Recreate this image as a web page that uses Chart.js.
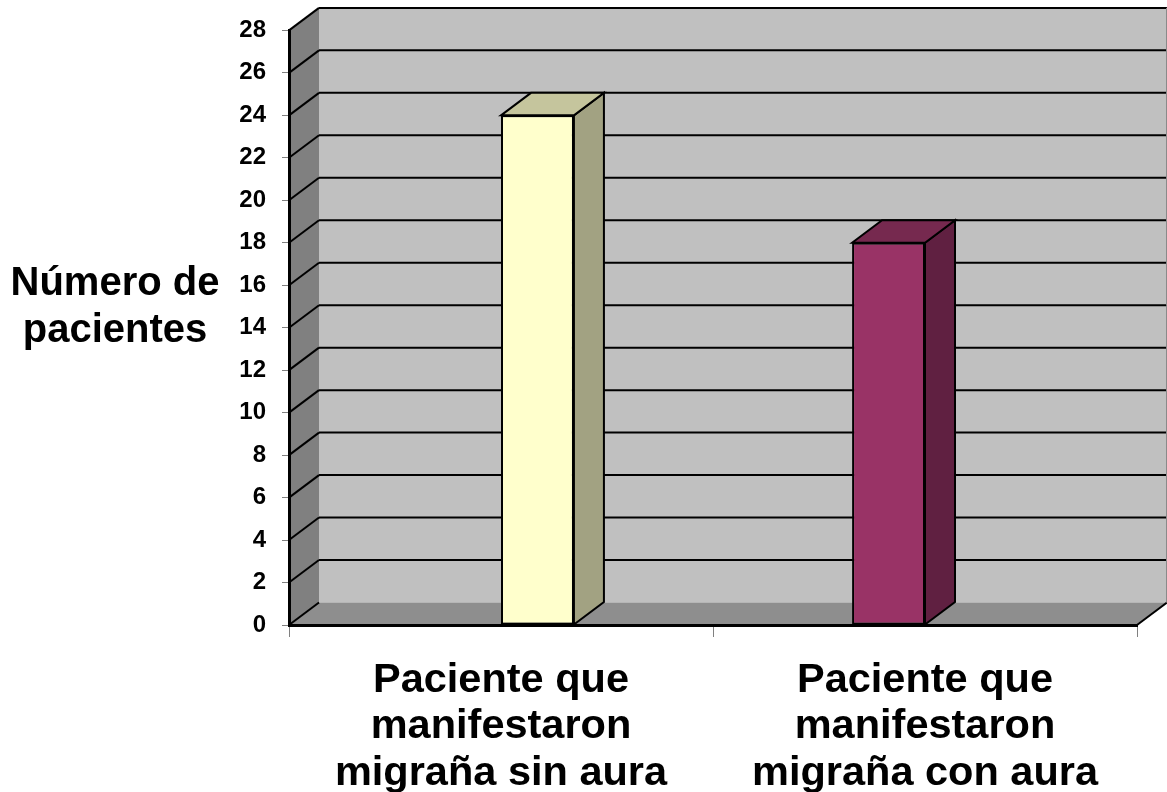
<!DOCTYPE html>
<html>
<head>
<meta charset="utf-8">
<script src="https://cdn.jsdelivr.net/npm/chart.js@4/dist/chart.umd.min.js"></script>
<style>
  html, body { margin: 0; padding: 0; background: #ffffff; }
  #wrap { width: 1167px; height: 792px; }
</style>
</head>
<body>
<div id="wrap"><canvas id="c" width="1167" height="792"></canvas></div>
<script>
// Patient counts per migraine type
const categories = [
  ["Paciente que", "manifestaron", "migraña sin aura"],
  ["Paciente que", "manifestaron", "migraña con aura"]
];
const patientCounts = [24, 18];
const frontColors = ["#ffffcc", "#993366"];
const topColors   = ["#c5c59d", "#76294f"];
const sideColors  = ["#a2a282", "#602041"];
const yTitleLines = ["Número de", "pacientes"];
const yMin = 0, yMax = 28, yStep = 2;

// depth of the 3D box (walls, floor and column sides)
const DX = 30, DY = 22.5;
const FONT = "'Liberation Sans', Arial, sans-serif";

// One series per category so each column lands beside its category centre,
// the way the 3D column layout places them.
const datasets = patientCounts.map((v, i) => ({
  label: categories[i].join(" "),
  data: categories.map((_, j) => (j === i ? v : null)),
  backgroundColor: frontColors[i],
  borderColor: "#000000",
  borderWidth: 2,
  borderSkipped: false,
  categoryPercentage: 0.344,
  barPercentage: 1.0
})).reverse();

function poly(ctx, pts, fill) {
  ctx.beginPath();
  ctx.moveTo(pts[0][0], pts[0][1]);
  for (let k = 1; k < pts.length; k++) ctx.lineTo(pts[k][0], pts[k][1]);
  ctx.closePath();
  ctx.fillStyle = fill;
  ctx.fill();
}
function line(ctx, x1, y1, x2, y2, color, w) {
  ctx.beginPath();
  ctx.moveTo(x1, y1);
  ctx.lineTo(x2, y2);
  ctx.strokeStyle = color;
  ctx.lineWidth = w;
  ctx.stroke();
}

// back wall, side wall, floor and their grid lines
const box3d = {
  id: "box3d",
  beforeDraw(chart) {
    const ctx = chart.ctx;
    const { left, right, top, bottom } = chart.chartArea;
    const ys = chart.scales.y;
    ctx.save();
    poly(ctx, [[left + DX, top - DY], [right + DX, top - DY], [right + DX, bottom - DY], [left + DX, bottom - DY]], "#c0c0c0");
    poly(ctx, [[left, top], [left + DX, top - DY], [left + DX, bottom - DY], [left, bottom]], "#808080");
    poly(ctx, [[left, bottom], [left + DX, bottom - DY], [right + DX, bottom - DY], [right, bottom]], "#8e8e8e");
    ctx.lineCap = "butt";
    ys.ticks.forEach(t => {
      const py = ys.getPixelForValue(t.value);
      line(ctx, left, py, left + DX, py - DY, "#000000", 2);
      if (t.value > yMin) line(ctx, left + DX, py - DY, right + DX, py - DY, "#000000", 2);
    });
    line(ctx, right, bottom, right + DX, bottom - DY, "#000000", 2);
    line(ctx, right + DX - 0.5, top - DY, right + DX - 0.5, bottom - DY, "#8a8a8a", 1);
    // horizontal axis title on the left
    ctx.fillStyle = "#000000";
    ctx.font = "bold 40px " + FONT;
    ctx.textAlign = "center";
    ctx.textBaseline = "alphabetic";
    ctx.fillText(yTitleLines[0], 115, 295);
    ctx.fillText(yTitleLines[1], 115, 342);
    ctx.restore();
  },
  afterDatasetsDraw(chart) {
    const ctx = chart.ctx;
    ctx.save();
    ctx.lineJoin = "miter";
    chart.data.datasets.forEach((ds, di) => {
      const meta = chart.getDatasetMeta(di);
      meta.data.forEach((el, j) => {
        if (ds.data[j] === null || ds.data[j] === undefined) return;
        const idx = j;
        const l = el.x - el.width / 2, r = el.x + el.width / 2;
        const t = el.y, b = el.base;
        const side = [[r, t], [r + DX, t - DY], [r + DX, b - DY], [r, b]];
        const topF = [[l, t], [l + DX, t - DY], [r + DX, t - DY], [r, t]];
        [[side, sideColors[idx]], [topF, topColors[idx]]].forEach(([pts, c]) => {
          poly(ctx, pts, c);
          ctx.strokeStyle = "#000000";
          ctx.lineWidth = 2;
          ctx.stroke();
        });
      });
    });
    ctx.restore();
  }
};

new Chart(document.getElementById("c"), {
  type: "bar",
  data: { labels: categories, datasets },
  options: {
    responsive: false,
    animation: false,
    layout: { padding: { left: 0, right: 30, top: 30, bottom: 0 } },
    plugins: { legend: { display: false }, tooltip: { enabled: false } },
    scales: {
      x: {
        grid: { offset: true, drawOnChartArea: false, drawTicks: true, tickLength: 12, color: "#808080", lineWidth: 1 },
        border: { display: true, color: "#000000", width: 3 },
        ticks: {
          color: "#000000",
          font: { family: FONT, size: 41.5, weight: "bold", lineHeight: 1.12 },
          padding: 20,
          maxRotation: 0,
          autoSkip: false
        },
        afterFit(scale) { scale.height = 167; }
      },
      y: {
        min: yMin,
        max: yMax,
        grid: { drawOnChartArea: false, drawTicks: true, tickLength: 7, color: "#808080", lineWidth: 1 },
        border: { display: true, color: "#000000", width: 3 },
        ticks: {
          stepSize: yStep,
          color: "#000000",
          font: { family: FONT, size: 24, weight: "bold" },
          padding: 16
        },
        afterFit(scale) { scale.width = 289; }
      }
    }
  },
  plugins: [box3d]
});
</script>
</body>
</html>
